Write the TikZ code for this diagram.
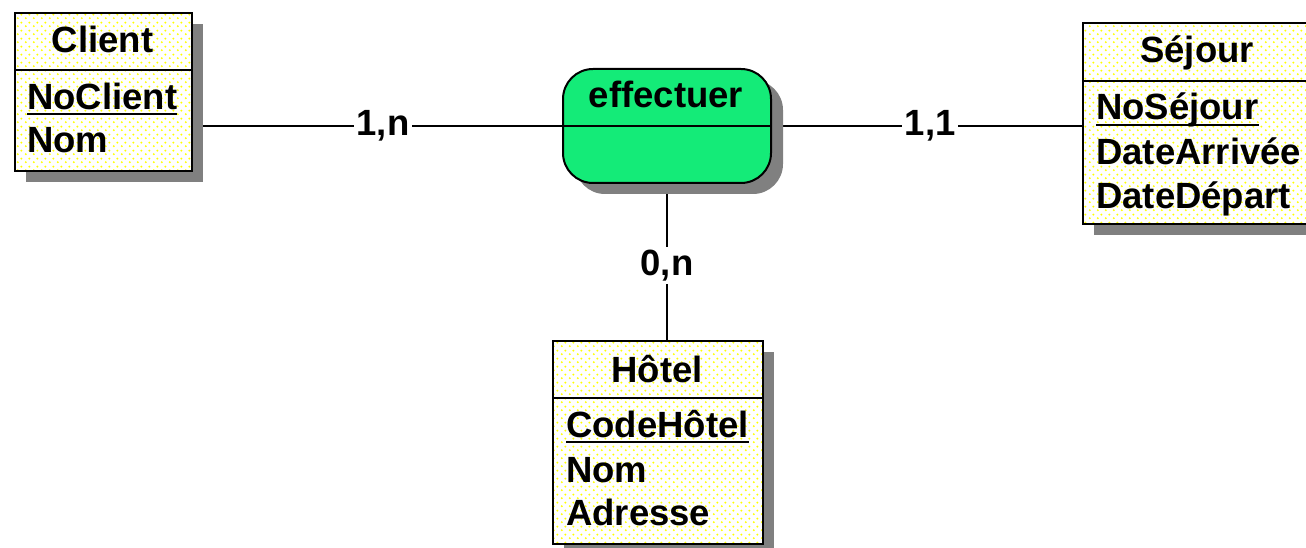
\documentclass[tikz,border=0pt]{standalone}
\usepackage{fontspec}
\setmainfont{Liberation Sans}
\usetikzlibrary{shadows,patterns,backgrounds}
\pgfdeclarepatternformonly{ydots}{\pgfqpoint{0pt}{0pt}}{\pgfqpoint{8pt}{8pt}}{\pgfqpoint{8pt}{8pt}}{%
  \pgfpathcircle{\pgfqpoint{2pt}{2pt}}{1.2pt}%
  \pgfpathcircle{\pgfqpoint{6pt}{6pt}}{1.2pt}%
  \pgfusepath{fill}}
\definecolor{effgreen}{RGB}{20,235,120}
\definecolor{shadowgray}{RGB}{128,128,128}
\begin{document}
\begin{tikzpicture}[x=1pt,y=-1pt,
  entity/.style={draw=black, line width=2pt, inner sep=0pt, anchor=north west,
    drop shadow={shadow xshift=11pt, shadow yshift=-11pt, fill=shadowgray, opacity=1},
    preaction={fill=white}, preaction={pattern=ydots, pattern color=yellow}},
  assoc/.style={draw=black, line width=2pt, inner sep=0pt, anchor=north west,
    rounded corners=30pt, fill=effgreen,
    drop shadow={shadow xshift=12pt, shadow yshift=-11pt, fill=shadowgray, opacity=1}},
  txt/.style={font=\fontsize{36.5}{43}\bfseries\selectfont, inner sep=0pt, anchor=base west},
  hdr/.style={txt, anchor=base},
  card/.style={fill=white, inner sep=3pt, font=\fontsize{36.5}{43}\bfseries\selectfont},
  sep/.style={line width=2pt},
  ul/.style={line width=2pt},
  conn/.style={line width=2pt}]
\useasboundingbox (0,0) rectangle (1306,548);

% Client
\node[entity, minimum width=177pt, minimum height=158pt] (client) at (14,12) {};
\draw[sep] (client.west |- 0,70) -- (client.east |- 0,70);
\node[hdr] (clientT) at (102.5,53) {Client};
\node[txt] (clientK) at (27,110) {NoClient};
\draw[ul] ([yshift=-4pt]clientK.base west) -- ([yshift=-4pt]clientK.base east);
\node[txt] (clientA) at (27,153) {Nom};

% Sejour (box runs past the right edge of the picture)
\node[entity, minimum width=400pt, minimum height=201pt] (sejour) at (1082,22) {};
\draw[sep] (sejour.west |- 0,81) -- (sejour.east |- 0,81);
\node[hdr] (sejourT) at (1197,63) {Séjour};
\node[txt] (sejourK) at (1096,120) {NoSéjour};
\draw[ul] ([yshift=-5pt]sejourK.base west) -- ([yshift=-5pt]sejourK.base east);
\node[txt] (sejourA) at (1096,165) {DateArrivée};
\node[txt] (sejourB) at (1096,208) {DateDépart};

% Hotel
\node[entity, minimum width=210pt, minimum height=203pt] (hotel) at (552,340) {};
\draw[sep] (hotel.west |- 0,398) -- (hotel.east |- 0,398);
\node[hdr] (hotelT) at (657,382) {Hôtel};
\node[txt] (hotelK) at (566,437) {CodeHôtel};
\draw[ul] ([yshift=-5pt]hotelK.base west) -- ([yshift=-5pt]hotelK.base east);
\node[txt] (hotelA) at (566,482) {Nom};
\node[txt] (hotelB) at (566,525) {Adresse};

% effectuer
\node[assoc, minimum width=208pt, minimum height=114pt] (eff) at (562,68) {};
\draw[sep] (eff.west) -- (eff.east);
\node[hdr] (effT) at (666,108) {effectuer};

% connectors
\begin{scope}[on background layer]
\draw[conn] (client.east |- eff.west) -- node[card, pos=0.515] (l1) {1,n} (eff.west);
\draw[conn] (eff.east) -- node[card, pos=0.51] (l2) {1,1} (sejour.west |- eff.east);
\draw[conn] (eff.south) -- node[card, pos=0.525] (l3) {0,n} (eff.south |- hotel.north);
\end{scope}
\end{tikzpicture}
\end{document}
